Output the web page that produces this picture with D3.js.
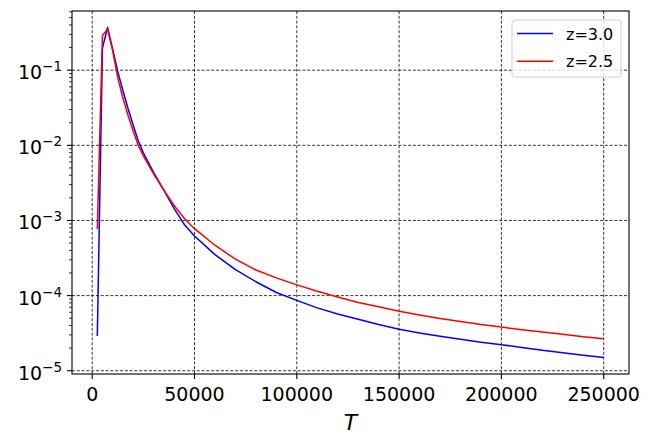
<!DOCTYPE html>
<html>
<head>
<meta charset="utf-8">
<script src="https://cdn.jsdelivr.net/npm/d3@7"></script>
<style>
  body { margin: 0; background: #fff; }
  svg { font-family: "DejaVu Sans", sans-serif; }
</style>
</head>
<body>
<div id="chart"></div>
<script>
// x values (T)
const tValues = [2500, 5000, 7500, 10000, 12500, 15000, 17500, 20000, 22500, 25000,
  30000, 35000, 40000, 45000, 50000, 60000, 70000, 80000, 90000, 100000,
  110000, 120000, 130000, 140000, 150000, 160000, 170000, 180000, 190000, 200000,
  210000, 220000, 230000, 240000, 250000]

// z=3.0 (blue)
const z30 = [2.89e-5, 0.195, 0.37, 0.19, 0.0955, 0.0537, 0.0309, 0.0186, 0.0115, 7.94e-3,
  4.37e-3, 2.54e-3, 1.45e-3, 8.85e-4, 6.21e-4, 3.51e-4, 2.21e-4, 1.53e-4, 1.10e-4, 8.65e-5,
  6.87e-5, 5.7e-5, 4.83e-5, 4.12e-5, 3.56e-5, 3.18e-5, 2.87e-5, 2.62e-5, 2.40e-5, 2.22e-5,
  2.04e-5, 1.88e-5, 1.74e-5, 1.61e-5, 1.50e-5]

// z=2.5 (red)
const z25 = [7.7e-4, 0.289, 0.35, 0.182, 0.079, 0.0427, 0.0251, 0.0155, 0.0100, 7.24e-3,
  4.17e-3, 2.54e-3, 1.58e-3, 1.07e-3, 7.78e-4, 4.68e-4, 3.05e-4, 2.19e-4, 1.72e-4, 1.39e-4,
  1.14e-4, 9.57e-5, 8.10e-5, 7.09e-5, 6.17e-5, 5.5e-5, 4.95e-5, 4.51e-5, 4.12e-5, 3.81e-5,
  3.52e-5, 3.27e-5, 3.05e-5, 2.84e-5, 2.67e-5]

const series = [
  { label: 'z=3.0', color: '#0000ff', values: z30 },
  { label: 'z=2.5', color: '#ff0000', values: z25 }
]

const xTicks = [0, 50000, 100000, 150000, 200000, 250000]
const yTickExp = [-5, -4, -3, -2, -1]

const width = 654
const height = 446
const margin = { top: 11, right: 25, bottom: 72, left: 72 }

const svg = d3.select('#chart')
  .append('svg')
  .attr('width', width)
  .attr('height', height)

// matplotlib style 5% padding
const xMin = d3.min(tValues), xMax = d3.max(tValues)
const xPad = (xMax - xMin) * 0.05
const x = d3.scaleLinear()
  .domain([xMin - xPad, xMax + xPad])
  .range([margin.left, width - margin.right])

const allY = z30.concat(z25)
const lMin = Math.log10(d3.min(allY)), lMax = Math.log10(d3.max(allY))
const lPad = (lMax - lMin) * 0.05
const y = d3.scaleLog()
  .domain([Math.pow(10, lMin - lPad), Math.pow(10, lMax + lPad)])
  .range([height - margin.bottom, margin.top])

const x0 = margin.left, x1 = width - margin.right
const y0 = height - margin.bottom, y1 = margin.top

// grid
const grid = svg.append('g')
  .attr('stroke', '#000')
  .attr('stroke-width', 0.8)
  .attr('stroke-dasharray', '3,1.8')
grid.selectAll('.gx')
  .data(xTicks)
  .enter()
  .append('line')
  .attr('x1', d => x(d)).attr('x2', d => x(d))
  .attr('y1', y0).attr('y2', y1)
grid.selectAll('.gy')
  .data(yTickExp)
  .enter()
  .append('line')
  .attr('x1', x0).attr('x2', x1)
  .attr('y1', d => y(Math.pow(10, d))).attr('y2', d => y(Math.pow(10, d)))

// lines
const line = d3.line()
  .x((d, i) => x(tValues[i]))
  .y(d => y(d))

svg.append('g')
  .selectAll('path')
  .data(series)
  .enter()
  .append('path')
  .attr('fill', 'none')
  .attr('stroke', d => d.color)
  .attr('stroke-width', 1.5)
  .attr('stroke-linejoin', 'round')
  .attr('d', d => line(d.values))

// axes frame
svg.append('rect')
  .attr('x', x0).attr('y', y1)
  .attr('width', x1 - x0).attr('height', y0 - y1)
  .attr('fill', 'none')
  .attr('stroke', '#000')
  .attr('stroke-width', 1.1)

// x ticks
const xAxis = svg.append('g')
xAxis.selectAll('line')
  .data(xTicks)
  .enter()
  .append('line')
  .attr('x1', d => x(d)).attr('x2', d => x(d))
  .attr('y1', y0).attr('y2', y0 + 5)
  .attr('stroke', '#000').attr('stroke-width', 1.1)
xAxis.selectAll('text')
  .data(xTicks)
  .enter()
  .append('text')
  .attr('x', d => x(d))
  .attr('y', y0 + 27)
  .attr('text-anchor', 'middle')
  .style('font-size', '19px')
  .attr('fill', '#000')
  .text(d => d)

// y ticks, major and minor
const [dLo, dHi] = y.domain()
const minor = []
for (let e = -6; e <= 0; e++) {
  for (let m = 2; m <= 9; m++) {
    const v = m * Math.pow(10, e)
    if (v >= dLo && v <= dHi) minor.push(v)
  }
}
const yAxis = svg.append('g')
yAxis.selectAll('.minor')
  .data(minor)
  .enter()
  .append('line')
  .attr('x1', x0).attr('x2', x0 - 3)
  .attr('y1', d => y(d)).attr('y2', d => y(d))
  .attr('stroke', '#000').attr('stroke-width', 0.8)
yAxis.selectAll('.major')
  .data(yTickExp)
  .enter()
  .append('line')
  .attr('x1', x0).attr('x2', x0 - 5)
  .attr('y1', d => y(Math.pow(10, d))).attr('y2', d => y(Math.pow(10, d)))
  .attr('stroke', '#000').attr('stroke-width', 1.1)

const yLab = yAxis.selectAll('text')
  .data(yTickExp)
  .enter()
  .append('text')
  .attr('x', x0 - 10)
  .attr('y', d => y(Math.pow(10, d)) + 9)
  .attr('text-anchor', 'end')
  .style('font-size', '19px')
  .attr('fill', '#000')
yLab.append('tspan').text('10')
yLab.append('tspan')
  .attr('dy', -8)
  .style('font-size', '13.5px')
  .text(d => '\u2212' + Math.abs(d))

// x label
svg.append('text')
  .attr('x', (x0 + x1) / 2)
  .attr('y', 430)
  .attr('text-anchor', 'middle')
  .style('font-size', '22px')
  .style('font-style', 'italic')
  .attr('fill', '#000')
  .text('T')

// legend
const legend = svg.append('g')
legend.append('rect')
  .attr('x', 512).attr('y', 20)
  .attr('width', 109).attr('height', 57)
  .attr('rx', 3)
  .attr('fill', '#fff').attr('fill-opacity', 0.8)
  .attr('stroke', '#d0d0d0').attr('stroke-width', 1)
const item = legend.selectAll('.item')
  .data(series)
  .enter()
  .append('g')
  .attr('transform', (d, i) => 'translate(0,' + (33.5 + i * 27.7) + ')')
item.append('line')
  .attr('x1', 517).attr('x2', 553)
  .attr('stroke', d => d.color)
  .attr('stroke-width', 1.5)
item.append('text')
  .attr('x', 566)
  .attr('y', 6)
  .style('font-size', '16px')
  .attr('fill', '#000')
  .text(d => d.label)
</script>
</body>
</html>
